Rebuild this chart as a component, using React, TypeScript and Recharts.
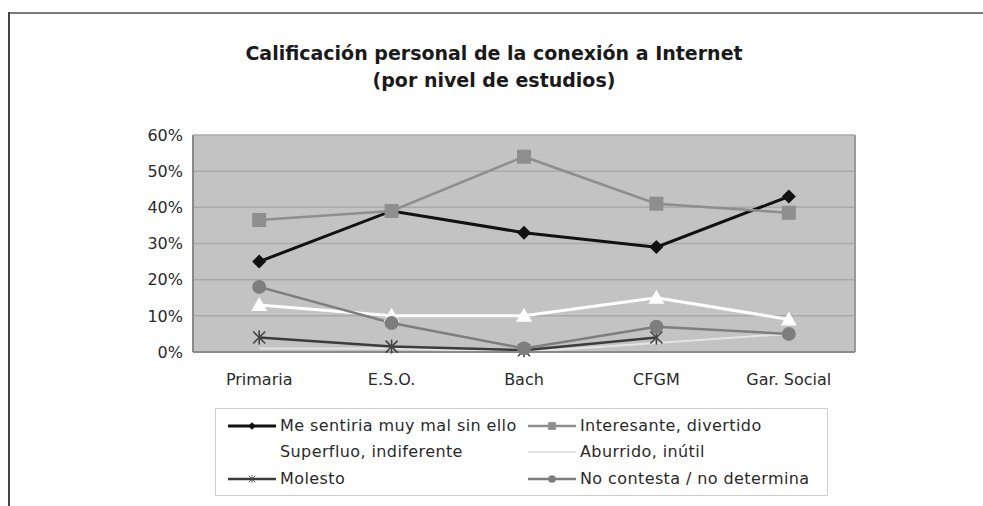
import React from 'react';
import { LineChart, Line, XAxis, YAxis, CartesianGrid } from 'recharts';

const categories = ['Primaria', 'E.S.O.', 'Bach', 'CFGM', 'Gar. Social'];
const meSentiria = [25, 39, 33, 29, 43];
const interesante = [36.5, 39, 54, 41, 38.5];
const superfluo = [13, 10, 10, 15, 9];
const aburrido = [1, 1, 0, 2.5, 5];
const molesto = [4, 1.5, 0.5, 4, null];
const noContesta = [18, 8, 1, 7, 5];
const yTicks = [0, 10, 20, 30, 40, 50, 60];

const seriesNames = [
  'Me sentiria muy mal sin ello',
  'Interesante, divertido',
  'Superfluo, indiferente',
  'Aburrido, inútil',
  'Molesto',
  'No contesta / no determina',
];

const data = categories.map((c, i) => ({
  cat: c,
  s0: meSentiria[i],
  s1: interesante[i],
  s2: superfluo[i],
  s3: aburrido[i],
  s4: molesto[i],
  s5: noContesta[i],
}));

const FONT = '"DejaVu Sans", Arial, sans-serif';

const Diamond = (p: any) => {
  const { cx, cy } = p;
  if (cx == null || cy == null) return null;
  const s = 7;
  return <path d={`M${cx},${cy - s}L${cx + s},${cy}L${cx},${cy + s}L${cx - s},${cy}Z`} fill="#111" />;
};
const Square = (p: any) => {
  const { cx, cy } = p;
  if (cx == null || cy == null) return null;
  return <rect x={cx - 7} y={cy - 7} width={14} height={14} fill="#8e8e8e" />;
};
const Triangle = (p: any) => {
  const { cx, cy } = p;
  if (cx == null || cy == null) return null;
  return <path d={`M${cx},${cy - 8}L${cx + 8},${cy + 6}L${cx - 8},${cy + 6}Z`} fill="#ffffff" />;
};
const Star = (p: any) => {
  const { cx, cy } = p;
  if (cx == null || cy == null) return null;
  const s = 6;
  return (
    <g stroke="#444" strokeWidth={1.6}>
      <line x1={cx - s} y1={cy - s} x2={cx + s} y2={cy + s} />
      <line x1={cx - s} y1={cy + s} x2={cx + s} y2={cy - s} />
      <line x1={cx} y1={cy - s - 1} x2={cx} y2={cy + s + 1} />
    </g>
  );
};
const Circle = (p: any) => {
  const { cx, cy } = p;
  if (cx == null || cy == null) return null;
  return <circle cx={cx} cy={cy} r={7} fill="#7e7e7e" />;
};

const seriesStyle = [
  { key: 's0', color: '#111111', width: 3, dot: Diamond },
  { key: 's1', color: '#8e8e8e', width: 2.5, dot: Square },
  { key: 's2', color: '#ffffff', width: 3, dot: Triangle },
  { key: 's3', color: '#e4e4e4', width: 2, dot: null },
  { key: 's4', color: '#3c3c3c', width: 2.5, dot: Star },
  { key: 's5', color: '#7e7e7e', width: 2.5, dot: Circle },
];

const LegendIcon = ({ i }: { i: number }) => {
  const st = seriesStyle[i];
  const D = st.dot as any;
  return (
    <svg width={48} height={14} style={{ display: 'block' }}>
      <line x1={0} y1={7} x2={48} y2={7} stroke={st.color} strokeWidth={st.width} />
      {D ? <g transform="translate(24,7) scale(0.55) translate(-24,-7)"><D cx={24} cy={7} /></g> : null}
    </svg>
  );
};

export default function App() {
  const legendPos = [
    { left: 228, top: 416 },
    { left: 528, top: 416 },
    { left: 228, top: 442 },
    { left: 528, top: 442 },
    { left: 228, top: 469 },
    { left: 528, top: 469 },
  ];
  return (
    <div style={{ position: 'absolute', left: 0, top: 0, width: 983, height: 506, background: '#fff', fontFamily: FONT, overflow: 'hidden' }}>
      <div style={{ position: 'absolute', left: 8, top: 12, width: 975, height: 2, background: '#7a7a7a' }} />
      <div style={{ position: 'absolute', left: 8, top: 12, width: 2, height: 494, background: '#444' }} />
      <div style={{ position: 'absolute', left: 0, top: 40, width: 988, textAlign: 'center', fontWeight: 'bold', fontSize: 19, color: '#1a1a1a', lineHeight: '27px' }}>
        <div>Calificación personal de la conexión a Internet</div>
        <div>(por nivel de estudios)</div>
      </div>
      <div style={{ position: 'absolute', left: 0, top: 0 }}>
        <LineChart width={983} height={506} data={data} margin={{ top: 135, right: 127, bottom: 124, left: 0 }}>
          <CartesianGrid vertical={false} fill="#c3c3c3" stroke="#aaaaaa" strokeWidth={1.5} />
          <XAxis
            dataKey="cat"
            scale="band"
            height={30}
            tickLine={false}
            tickSize={6}
            tickMargin={16}
            axisLine={{ stroke: '#8a8a8a', strokeWidth: 2 }}
            tick={{ fontSize: 16, fill: '#2a2a2a', fontFamily: FONT }}
            interval={0}
          />
          <YAxis
            width={193}
            domain={[0, 60]}
            ticks={yTicks}
            tickFormatter={(v: number) => `${v}%`}
            tickLine={false}
            tickSize={6}
            tickMargin={4}
            axisLine={{ stroke: '#8a8a8a', strokeWidth: 2 }}
            tick={{ fontSize: 16, fill: '#2a2a2a', fontFamily: FONT }}
            interval={0}
          />
          <YAxis yAxisId="r" orientation="right" width={1} domain={[0, 60]} tick={false} tickLine={false} axisLine={{ stroke: '#9a9a9a', strokeWidth: 2 }} />
          {seriesStyle.map((st, i) => (
            <Line
              key={st.key}
              dataKey={st.key}
              name={seriesNames[i]}
              stroke={st.color}
              strokeWidth={st.width}
              dot={st.dot ? (st.dot as any) : false}
              activeDot={false}
              isAnimationActive={false}
              type="linear"
            />
          ))}
        </LineChart>
      </div>
      <div style={{ position: 'absolute', left: 215, top: 408, width: 613, height: 88, border: '1.5px solid #cfcfcf', boxSizing: 'border-box' }} />
      {seriesNames.map((n, i) => (
        <div key={n} style={{ position: 'absolute', left: legendPos[i].left, top: legendPos[i].top, display: 'flex', alignItems: 'center', fontSize: 16, color: '#2a2a2a', letterSpacing: 0.4, whiteSpace: 'nowrap' }}>
          <LegendIcon i={i} />
          <span style={{ marginLeft: 4 }}>{n}</span>
        </div>
      ))}
    </div>
  );
}
